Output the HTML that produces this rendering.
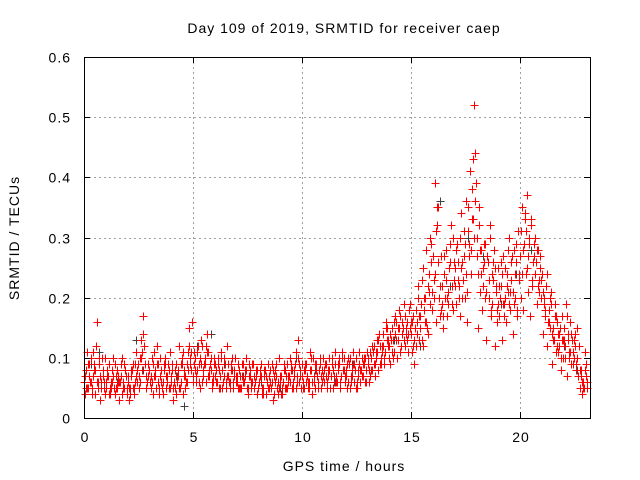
<!DOCTYPE html>
<html><head><meta charset="utf-8"><style>
html,body{margin:0;padding:0;background:#fff;}
svg{display:block;font-family:"Liberation Sans",sans-serif;}
text{letter-spacing:1px;}
</style></head><body>
<svg id="chart" width="640" height="480">
<text x="344" y="33" font-size="14" text-anchor="middle">Day 109 of 2019, SRMTID for receiver caep</text>
<text x="0" y="0" font-size="14" text-anchor="middle" transform="translate(19,238) rotate(-90)">SRMTID / TECUs</text>
<text x="344" y="471" font-size="14" text-anchor="middle">GPS time / hours</text>
<g id="grid"></g>
<g id="dark" shape-rendering="crispEdges"></g>
<g id="red" shape-rendering="crispEdges"></g>
<rect x="84.5" y="57.5" width="506" height="361" fill="none" stroke="#000" stroke-width="1"/>
<g id="ticks" shape-rendering="crispEdges"></g>
</svg>
<script>
const xTicks=[0,5,10,15,20];
const yTicks=[0,0.1,0.2,0.3,0.4,0.5,0.6];
const yTickLabels=["0","0.1","0.2","0.3","0.4","0.5","0.6"];
const tStart=0, tStep=0.1;
const redA=[.06,.08,.05,.10,.07,.04,.16,.09,.06,.05,
.05,.07,.04,.06,.09,.05,.03,.07,.06,.08,
.06,.04,.08,.05,.11,.07,.13,.17,.09,.06,
.08,.06,.11,.05,.09,.07,.04,.10,.06,.08,
.06,.03,.09,.07,.05,.10,.08,.06,.15,.11,
.07,.10,.08,.05,.12,.09,.06,.11,.08,.07,
.09,.06,.08,.11,.07,.05,.09,.06,.10,.08,
.06,.08,.05,.09,.07,.04,.08,.06,.05,.07,
.05,.07,.04,.08,.06,.05,.09,.04,.07,.06,
.06,.04,.08,.05,.07,.09,.06,.11,.13,.07,
.07,.05,.09,.06,.08,.10,.05,.07,.09,.06,
.06,.09,.07,.05,.08,.11,.06,.09,.07,.10,
.08,.06,.10,.07,.09,.06,.11,.08,.07,.10,
.09,.11,.08,.12,.10,.13,.09,.14,.11,.15,
.12,.15,.11,.16,.13,.17,.14,.12,.16,.18,
.14,.17,.12,.20,.15,.23,.18,.28,.21,.26,
.27,.39,.32,.22,.19,.24,.28,.21,.26,.30,
.25,.29,.22,.34,.27,.36,.31,.41,.38,.52,
.30,.35,.28,.25,.29,.27,.32,.24,.28,.22,
.25,.22,.27,.20,.24,.30,.23,.28,.26,.31,
.27,.35,.33,.37,.29,.32,.26,.30,.28,.25,
.24,.20,.22,.18,.21,.15,.19,.16,.12,.17,
.15,.19,.13,.16,.11,.14,.10,.12,.08,.06,.09];
const redB=[.04,.11,.07,.05,.09,.12,.06,.03,.08,.10,
.08,.04,.06,.10,.05,.07,.06,.04,.09,.05,
.03,.07,.05,.09,.06,.10,.08,.12,.05,.07,
.05,.09,.07,.12,.04,.06,.08,.05,.09,.11,
.08,.05,.06,.12,.09,.04,.07,.11,.09,.16,
.11,.06,.09,.13,.07,.10,.14,.08,.05,.10,
.06,.10,.07,.05,.09,.12,.06,.08,.05,.07,
.09,.05,.07,.06,.10,.07,.05,.09,.06,.04,
.08,.05,.07,.04,.09,.06,.03,.08,.05,.10,
.04,.09,.05,.07,.10,.05,.08,.06,.09,.05,
.05,.08,.06,.11,.04,.07,.09,.05,.07,.10,
.09,.05,.08,.10,.06,.07,.09,.05,.11,.07,
.05,.09,.07,.11,.05,.08,.06,.10,.09,.06,
.06,.08,.11,.07,.13,.09,.12,.10,.15,.12,
.09,.13,.17,.10,.15,.12,.19,.14,.11,.15,
.11,.09,.16,.13,.19,.12,.16,.14,.30,.18,
.20,.16,.35,.18,.15,.20,.17,.25,.19,.23,
.19,.23,.17,.26,.20,.16,.29,.24,.33,.44,
.15,.21,.18,.26,.13,.20,.17,.23,.12,.16,
.17,.13,.19,.16,.21,.18,.14,.20,.17,.23,
.20,.18,.24,.21,.17,.22,.27,.19,.23,.20,
.14,.17,.12,.15,.09,.13,.11,.14,.08,.10,
.10,.07,.11,.09,.13,.08,.07,.05,.04,.11,.05];
const redC=[.07,.05,.09,.06,.11,.08,.05,.07,.10,.06,
.06,.09,.05,.07,.04,.08,.06,.10,.05,.07,
.07,.05,.09,.06,.08,.05,.10,.14,.07,.09,
.06,.10,.07,.09,.05,.08,.06,.09,.07,.05,
.09,.06,.04,.08,.06,.11,.05,.09,.12,.08,
.09,.07,.12,.10,.06,.09,.11,.07,.10,.06,
.07,.09,.05,.08,.10,.06,.07,.09,.06,.10,
.07,.05,.09,.06,.08,.05,.07,.09,.06,.08,
.06,.09,.05,.07,.05,.08,.06,.07,.09,.05,
.07,.06,.05,.09,.06,.08,.07,.05,.10,.08,
.06,.09,.07,.05,.10,.06,.08,.06,.10,.08,
.08,.06,.10,.07,.05,.09,.08,.06,.10,.08,
.07,.10,.06,.09,.08,.05,.09,.07,.10,.08,
.10,.07,.12,.09,.11,.14,.10,.12,.16,.13,
.14,.11,.16,.13,.18,.12,.15,.17,.13,.19,
.16,.13,.18,.22,.17,.25,.20,.15,.24,.29,
.23,.31,.26,.17,.22,.27,.20,.25,.32,.18,
.22,.26,.30,.20,.31,.24,.35,.28,.43,.36,
.27,.32,.24,.29,.21,.26,.30,.19,.25,.18,
.22,.26,.19,.25,.28,.21,.27,.19,.29,.24,
.31,.28,.34,.25,.30,.23,.29,.26,.22,.27,
.21,.18,.24,.16,.19,.13,.17,.11,.15,.13,
.13,.17,.10,.14,.09,.12,.15,.08,.06,.05,.07];
const redD=[.05,.09,.06,.04,.08,.06,.10,.05,.07,.04,
.07,.05,.08,.05,.07,.06,.09,.05,.08,.04,
.05,.08,.04,.07,.09,.06,.11,.09,.06,.08,
.07,.04,.08,.06,.10,.05,.09,.07,.05,.07,
.05,.08,.07,.05,.09,.07,.06,.08,.10,.06,
.08,.11,.06,.09,.08,.12,.07,.09,.06,.09,
.08,.05,.10,.06,.09,.07,.05,.08,.07,.06,
.05,.07,.06,.08,.05,.09,.06,.07,.08,.05,
.07,.04,.08,.06,.07,.05,.08,.06,.04,.07,
.05,.08,.07,.06,.08,.05,.09,.07,.06,.09,
.08,.06,.05,.08,.06,.09,.07,.08,.05,.07,
.07,.08,.05,.09,.07,.06,.10,.07,.08,.06,
.09,.05,.08,.06,.10,.07,.08,.09,.06,.11,
.08,.10,.09,.11,.08,.12,.11,.09,.13,.10,
.13,.10,.14,.15,.11,.16,.13,.15,.14,.16,
.12,.15,.14,.17,.13,.20,.16,.22,.19,.21,
.24,.35,.20,.27,.17,.23,.19,.29,.22,.26,
.28,.20,.25,.23,.29,.21,.27,.33,.30,.39,
.24,.28,.22,.20,.27,.23,.18,.26,.21,.19,
.20,.24,.17,.22,.19,.26,.21,.24,.18,.27,
.24,.29,.31,.27,.33,.26,.24,.28,.21,.23,
.19,.22,.16,.20,.14,.17,.12,.14,.10,.13,
.12,.14,.11,.13,.10,.09,.12,.07,.05,.08,.06];
const darkT=[0.3,0.7,1.5,2.4,2.7,3.3,4.2,4.6,5.2,5.8,6.4,7.3,8.1,9.0,9.7,10.6,11.5,12.3,13.1,14.2,14.9,15.4,16.3,16.8,17.6,18.3,19.1,19.8,20.5,21.3,22.0,22.6];
const darkV=[.09,.11,.06,.13,.08,.05,.07,.02,.12,.14,.09,.07,.06,.05,.10,.08,.06,.09,.07,.13,.18,.12,.36,.22,.30,.27,.19,.24,.28,.16,.12,.08];
const X0=84,X1=590,XMAX=23.2,Y0=418,Y1=57,YMAX=0.6;
const sx=t=>X0+(X1-X0)*t/XMAX;
const sy=v=>Y0-(Y0-Y1)*v/YMAX;
const NS="http://www.w3.org/2000/svg";
function mk(tag,attrs,parent){const e=document.createElementNS(NS,tag);for(const k in attrs)e.setAttribute(k,attrs[k]);parent.appendChild(e);return e;}
const grid=document.getElementById('grid'),ticks=document.getElementById('ticks');
xTicks.forEach(t=>{const x=Math.round(sx(t))+0.5;
 if(t>0){const g=mk('line',{x1:x,x2:x,y1:Y1,y2:Y0,stroke:'#a0a0a0','stroke-dasharray':'2,3'},grid);
 
 }
 mk('line',{x1:x,x2:x,y1:Y0,y2:Y0-6,stroke:'#000'},ticks);
 mk('line',{x1:x,x2:x,y1:Y1,y2:Y1+6,stroke:'#000'},ticks);
 const l=mk('text',{x:x+0.5,y:Y0+24,'font-size':14,'text-anchor':'middle'},ticks);l.textContent=t;
 
 });
yTicks.forEach((v,i)=>{const y=Math.round(sy(v))+0.5;
 if(v>0&&v<YMAX){const g=mk('line',{x1:X0,x2:X1,y1:y,y2:y,stroke:'#a0a0a0','stroke-dasharray':'2,3'},grid);
 
 }
 mk('line',{x1:X0,x2:X0+6,y1:y,y2:y,stroke:'#000'},ticks);
 mk('line',{x1:X1,x2:X1-6,y1:y,y2:y,stroke:'#000'},ticks);
 const l=mk('text',{x:X0-13,y:y+5,'font-size':14,'text-anchor':'end'},ticks);l.textContent=yTickLabels[i];
 
 });
function plus(g,t,v,col){const x=Math.round(sx(t))+0.5,y=Math.round(sy(v))+0.5;
 const p=mk('path',{d:`M${x-4},${y}H${x+4}M${x},${y-4}V${y+4}`,stroke:col,'stroke-width':1,fill:'none'},g);
 
 }
const dg=document.getElementById('dark'),rg=document.getElementById('red');
darkT.forEach((t,i)=>plus(dg,t,darkV[i],'#404040'));
redA.forEach((v,i)=>plus(rg,tStart+i*tStep,v,'#ff0000'));
redB.forEach((v,i)=>plus(rg,tStart+i*tStep+0.05,v,'#ff0000'));
redC.forEach((v,i)=>plus(rg,tStart+i*tStep+0.025,v,'#ff0000'));
redD.forEach((v,i)=>plus(rg,tStart+i*tStep+0.075,v,'#ff0000'));
</script>
</body></html>
